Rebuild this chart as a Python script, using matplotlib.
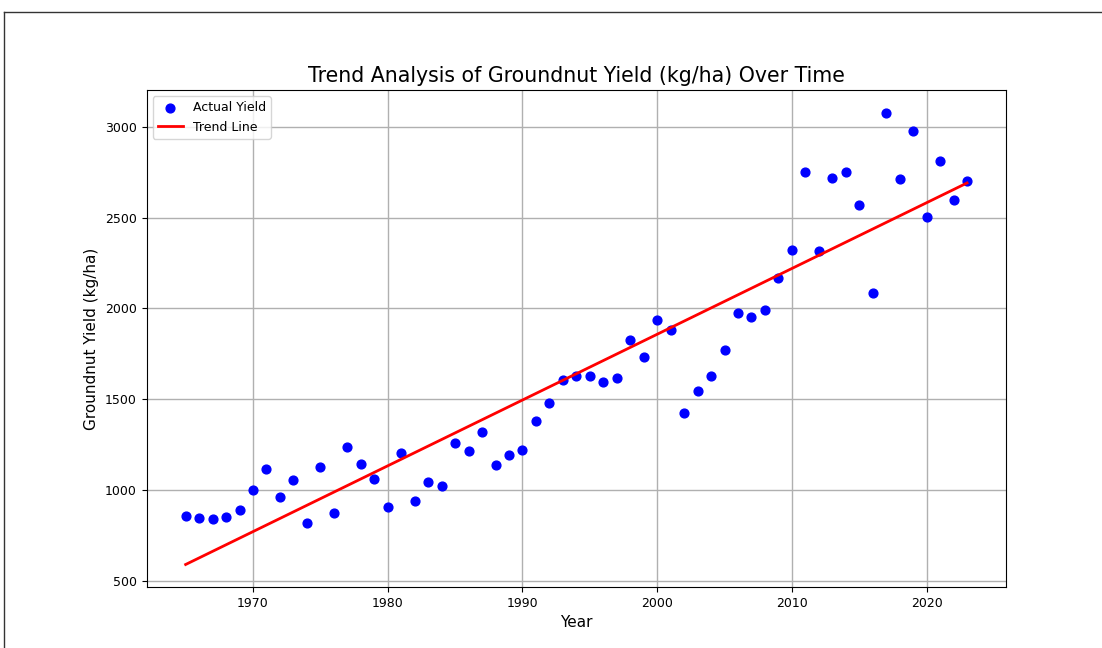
import numpy as np
import matplotlib
matplotlib.use("Agg")
import matplotlib.pyplot as plt
from matplotlib.lines import Line2D

# Groundnut yield (kg/ha) per year
years = list(range(1965, 2024))
yield_kg_ha = [
    856, 847, 841, 852, 891, 1000, 1115, 962, 1054, 821,
    1126, 876, 1236, 1146, 1060, 907, 1206, 939, 1045, 1023,
    1258, 1216, 1317, 1137, 1192, 1221, 1379, 1480, 1607, 1625,
    1627, 1592, 1618, 1825, 1735, 1937, 1880, 1425, 1546, 1627,
    1770, 1976, 1952, 1989, 2165, 2323, 2748, 2313, 2717, 2748,
    2570, 2084, 3077, 2712, 2974, 2501, 2811, 2596, 2699,
]

x = np.array(years)
y = np.array(yield_kg_ha)

# Linear trend fitted to the data
slope, intercept = np.polyfit(x, y, 1)
trend = slope * x + intercept

fig = plt.figure(figsize=(11.02, 6.48), dpi=100)
ax = fig.add_axes([0.133, 0.094, 0.780, 0.767])

ax.scatter(x, y, color='blue', s=40, label='Actual Yield', zorder=3)
ax.plot(x, trend, color='red', linewidth=2, label='Trend Line', zorder=4)

ax.set_title('Trend Analysis of Groundnut Yield (kg/ha) Over Time', fontsize=14.8)
ax.set_xlabel('Year', fontsize=11)
ax.set_ylabel('Groundnut Yield (kg/ha)', fontsize=11)
ax.tick_params(labelsize=9)
ax.legend(loc='upper left', fontsize=9)
ax.grid(True, color='#b0b0b0', linewidth=1)

# screenshot frame (top and left edges)
fig.add_artist(Line2D([0.0036, 1.0], [1 - 12 / 648, 1 - 12 / 648], transform=fig.transFigure, color='#333333', linewidth=1))
fig.add_artist(Line2D([0.0036, 0.0036], [0.0, 1 - 12 / 648], transform=fig.transFigure, color='#333333', linewidth=1))

fig.savefig('out.png', dpi=100)
